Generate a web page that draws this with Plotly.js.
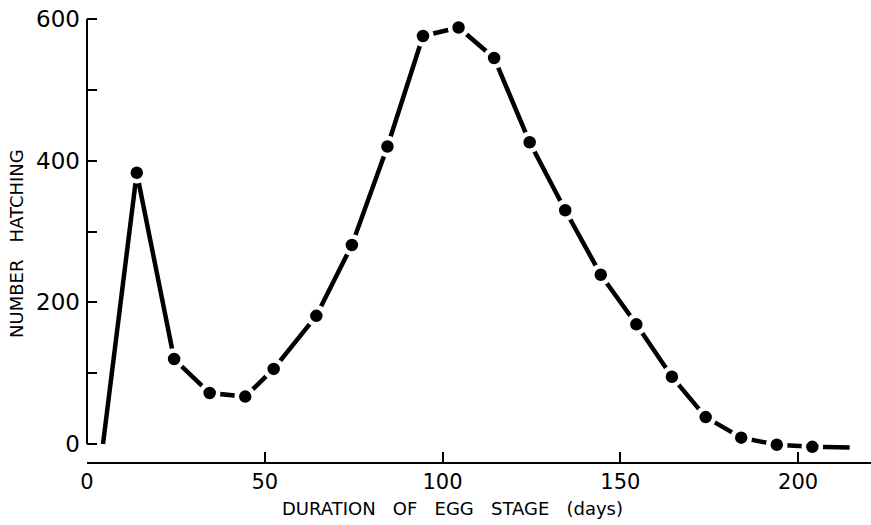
<!DOCTYPE html>
<html>
<head>
<meta charset="utf-8">
<script src="https://cdn.plot.ly/plotly-3.0.1.min.js"></script>
<style>html,body{margin:0;padding:0;background:#fff;}#chart{width:871px;height:525px;}</style>
</head>
<body>
<div id="chart"></div>
<script>
// Duration of egg stage (days) and number hatching
var days = [4.5, 14, 24.5, 34.5, 44.5, 52.5, 64.5, 74.5, 84.5, 94.5, 104.5, 114.5, 124.5, 134.5, 144.5, 154.5, 164.5, 174, 184, 194, 204, 214.5];
var hatching = [0, 383, 120, 72, 67, 106, 181, 281, 420, 576, 588, 545, 426, 330, 239, 169, 95, 38, 9, -1, -4, -5];
// the curve starts and ends without a dot
var dotDays = days.slice(1, days.length - 1);
var dotHatching = hatching.slice(1, hatching.length - 1);

var yTickVals = [0, 100, 200, 300, 400, 500, 600];
var yTickText = ['0', '', '200', '', '400', '', '600'];
var xTickVals = [0, 50, 100, 150, 200];
var xTickText = ['0', '50', '100', '150', '200'];

var xTitle = 'DURATION&nbsp;&nbsp; OF&nbsp;&nbsp; EGG&nbsp;&nbsp; STAGE&nbsp;&nbsp; (days)';
var yTitle = 'NUMBER&nbsp;&nbsp; HATCHING';

var traces = [
  {
    x: days, y: hatching, type: 'scatter', mode: 'lines',
    line: {color: '#000', width: 4.5},
    hoverinfo: 'x+y', showlegend: false
  },
  {
    x: dotDays, y: dotHatching, type: 'scatter', mode: 'markers',
    marker: {color: '#000', size: 17, line: {color: '#fff', width: 4.5}},
    hoverinfo: 'x+y', showlegend: false
  }
];

var layout = {
  width: 871, height: 525,
  margin: {l: 87, r: 0, t: 10, b: 63},
  paper_bgcolor: '#fff', plot_bgcolor: '#fff',
  font: {family: 'DejaVu Sans, sans-serif', color: '#000'},
  xaxis: {
    range: [0, 220.5],
    showline: true, linecolor: '#000', linewidth: 2,
    showgrid: false, zeroline: false,
    ticks: 'inside', ticklen: 10, tickwidth: 2, tickcolor: '#000',
    tickvals: xTickVals, ticktext: xTickText,
    tickfont: {family: 'DejaVu Sans, sans-serif', size: 21, color: '#000'}
  },
  yaxis: {
    range: [-25.4, 612.7],
    showline: false, showgrid: false, zeroline: false,
    ticks: 'inside', ticklen: 10, tickwidth: 2, tickcolor: '#000',
    tickvals: yTickVals, ticktext: yTickText,
    ticklabelstandoff: 6,
    tickfont: {family: 'DejaVu Sans, sans-serif', size: 23, color: '#000'}
  },
  annotations: [
    {text: xTitle, xref: 'paper', yref: 'paper', x: (452 - 87) / 784, y: (525 - 63 - 508) / 452,
     xanchor: 'center', yanchor: 'middle', showarrow: false,
     font: {family: 'DejaVu Sans, sans-serif', size: 18, color: '#000'}},
    {text: yTitle, xref: 'paper', yref: 'paper', x: (16 - 87) / 784, y: (462 - 244) / 452,
     xanchor: 'center', yanchor: 'middle', showarrow: false, textangle: -90,
     font: {family: 'DejaVu Sans, sans-serif', size: 18, color: '#000'}}
  ],
  shapes: [
    {type: 'line', xref: 'paper', yref: 'y', x0: 0, x1: 0, y0: 0, y1: 600,
     line: {color: '#000', width: 2}, layer: 'above'}
  ]
};

Plotly.newPlot('chart', traces, layout, {displayModeBar: false, staticPlot: true});
</script>
</body>
</html>
